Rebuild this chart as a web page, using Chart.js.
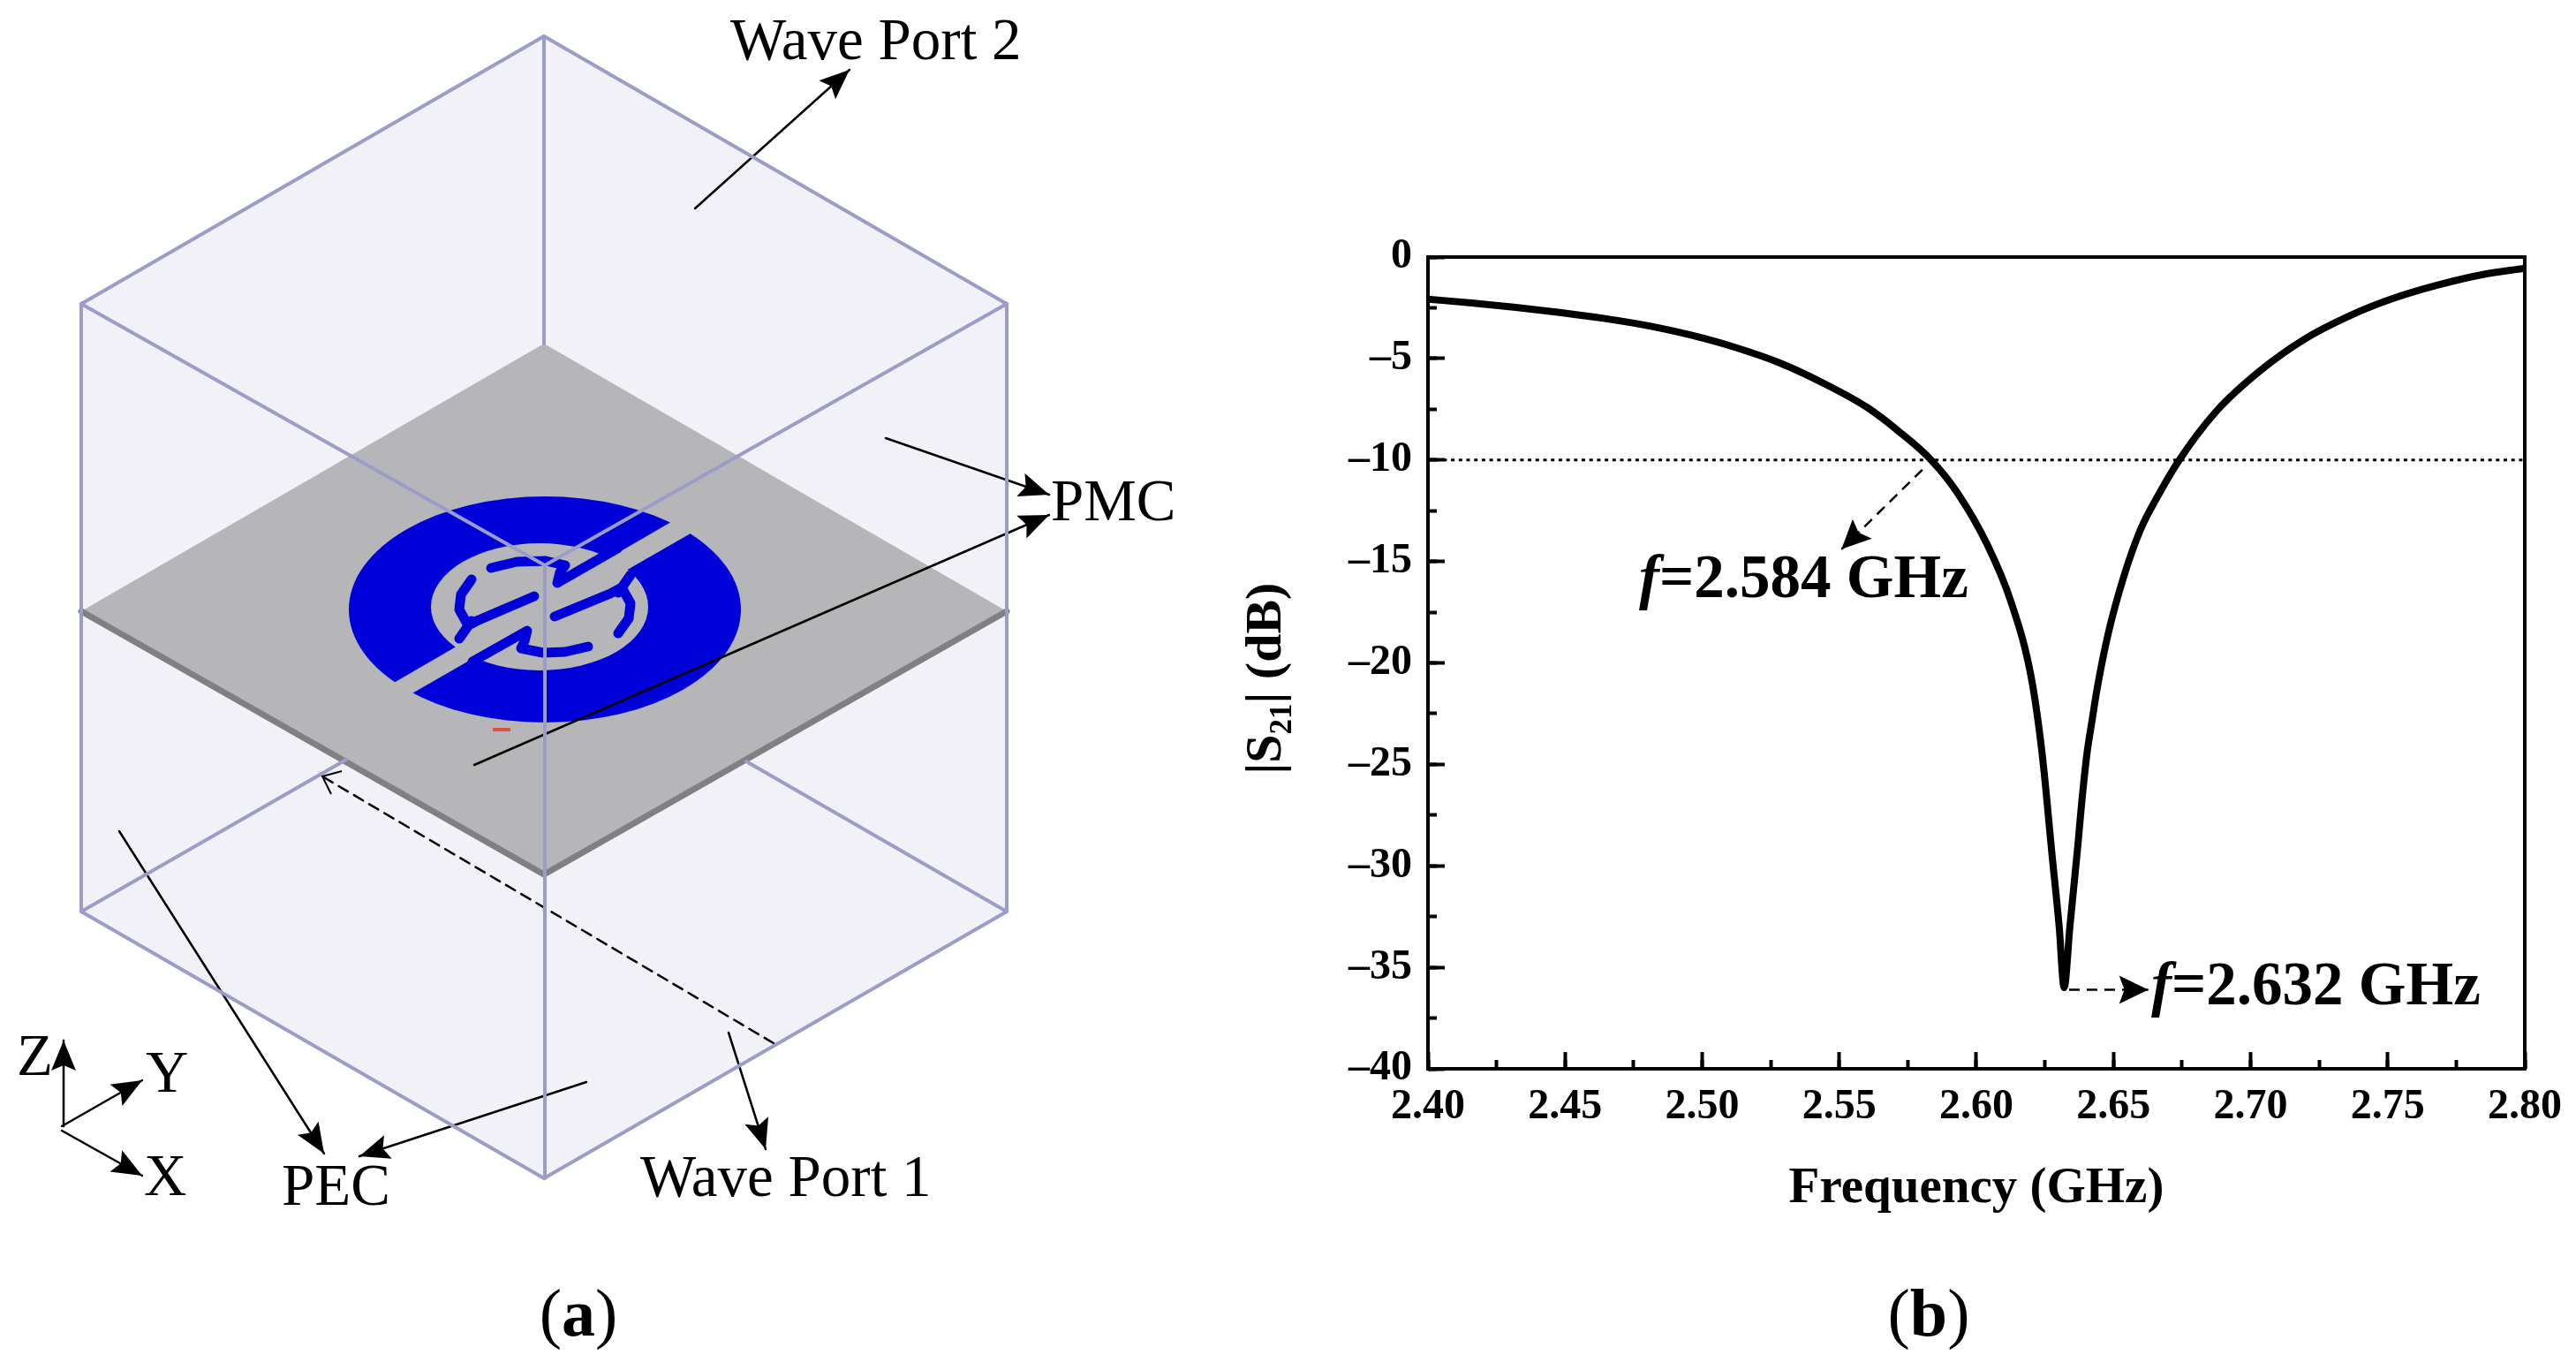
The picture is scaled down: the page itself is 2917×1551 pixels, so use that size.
<!DOCTYPE html>
<html>
<head>
<meta charset="utf-8">
<title>S21 response</title>
<script src="https://cdn.jsdelivr.net/npm/chart.js@4"></script>
<style>
  html, body { margin: 0; padding: 0; background: #fff; }
  #page { position: relative; width: 2917px; height: 1551px; overflow: hidden; }
  canvas { position: absolute; top: 0; }
  #modelChart { left: 0; }
  #responseChart { left: 1380px; }
</style>
</head>
<body>
<div id="page">
  <canvas id="modelChart" width="1380" height="1551"></canvas>
  <canvas id="responseChart" width="1600" height="1551"></canvas>
</div>
<script>
// --- Response curve data (b) ---
const frequency = [2.40, 2.416, 2.432, 2.448, 2.464, 2.48, 2.496, 2.512, 2.528, 2.544, 2.5605, 2.5717, 2.5835, 2.5932, 2.604, 2.6125, 2.62, 2.624, 2.6277, 2.6302, 2.632, 2.6341, 2.637, 2.6384, 2.6404, 2.642, 2.644, 2.648, 2.6534, 2.6598, 2.6665, 2.674, 2.6875, 2.7035, 2.7196, 2.7357, 2.7518, 2.768, 2.784, 2.80];
const s21 = [-2.08, -2.26, -2.48, -2.73, -3.02, -3.38, -3.85, -4.45, -5.2, -6.2, -7.44, -8.59, -10, -11.64, -14.18, -16.94, -20.71, -24.5, -29.6, -33, -36, -33, -29, -26.9, -24.4, -23, -21.3, -18.6, -15.9, -13.45, -11.7, -10, -7.6, -5.6, -4.05, -2.92, -2.05, -1.39, -0.88, -0.55];
const threshold = -10;
const xRange = [2.40, 2.80];
const yRange = [-40, 0];
const lowerLabel = ['f', '=2.584 GHz'];
const upperLabel = ['f', '=2.632 GHz'];
// dashed pointers in data units: [from, to]
const lowerPointer = [{ x: 2.5803, y: -10.48 }, { x: 2.5508, y: -14.4 }];
const upperPointer = [{ x: 2.6338, y: -36.1 }, { x: 2.6627, y: -36.1 }];

// --- Model sketch (a), in picture units ---
const hexagon = [[616, 41], [1140, 344], [1140, 1032], [616, 1334], [92, 1032], [92, 344]];
const plate = [[616, 389], [1140, 692], [616, 990], [92, 692]];
const slot = [[439, 777], [765, 588], [794, 597], [458, 790]];
const boxEdges = [
  [[92, 344], [616, 41], [1140, 344]],
  [[616, 41], [616, 389]],
  [[92, 344], [92, 1032], [616, 1334], [1140, 1032], [1140, 344]],
  [[92, 344], [617, 640], [1140, 344]],
  [[617, 640], [617, 1334]],
  [[92, 1032], [392, 860]],
  [[1140, 1032], [845, 862]]
];
const plateFront = [[92, 692], [616, 990], [1140, 692]];
const stripA = [[556, 643], [585, 636], [618, 635], [640, 640], [634, 648], [631, 660], [699, 621]];
const stripB = [[534, 656], [522, 673], [520, 690], [530, 708], [542, 702], [605, 675]];
const stripBStub = [[534, 703], [520, 723]];
const stripC = [[700, 717], [712, 700], [714, 683], [704, 665], [691, 672], [628, 698]];
const stripCStub = [[700, 671], [714, 651]];
const stripD = [[666, 732], [640, 738], [615, 739], [590, 734], [594, 726], [597, 714], [535, 749]];
const solidArrows = [
  [[787, 236], [962, 79]],
  [[1003, 496], [1188, 560]],
  [[537, 866], [1188, 583]],
  [[825, 1169], [867, 1301]],
  [[135, 941], [367, 1306]],
  [[664, 1225], [407, 1309]],
  [[72, 1275], [72, 1178]],
  [[70, 1275], [161, 1223]],
  [[70, 1280], [161, 1331]]
];
const dashedPort = [[876, 1181], [365, 879]];
const modelLabels = [
  ['Wave Port 2', 827, 67],
  ['PMC', 1190, 589],
  ['PEC', 319, 1364],
  ['Wave Port 1', 725, 1354],
  ['Z', 19, 1217],
  ['Y', 165, 1236],
  ['X', 163, 1353]
];

const SERIF = '"Liberation Serif", serif';
Chart.defaults.devicePixelRatio = 1;

// --- Helpers ---
function arrowHead(ctx, x1, y1, x2, y2, len, wid) {
  const a = Math.atan2(y2 - y1, x2 - x1);
  ctx.save();
  ctx.translate(x2, y2);
  ctx.rotate(a);
  ctx.fillStyle = '#000';
  ctx.beginPath();
  ctx.moveTo(0, 0);
  ctx.lineTo(-len, -wid / 2);
  ctx.lineTo(-len * 0.82, 0);
  ctx.lineTo(-len, wid / 2);
  ctx.closePath();
  ctx.fill();
  ctx.restore();
}
function caption(ctx, cx, y, letter) {
  ctx.save();
  ctx.fillStyle = '#000';
  ctx.textBaseline = 'alphabetic';
  ctx.textAlign = 'left';
  ctx.font = '76px ' + SERIF;
  const pw = ctx.measureText('(').width;
  ctx.font = 'bold 76px ' + SERIF;
  const lw = ctx.measureText(letter).width;
  let x = cx - (pw * 2 + lw) / 2;
  ctx.font = '76px ' + SERIF;
  ctx.fillText('(', x, y);
  x += pw;
  ctx.font = 'bold 76px ' + SERIF;
  ctx.fillText(letter, x, y);
  x += lw;
  ctx.font = '76px ' + SERIF;
  ctx.fillText(')', x, y);
  ctx.restore();
}
function toXY(points) {
  return points.map(p => ({ x: p[0], y: p[1] }));
}
function pathDataset(points, color, width, dash) {
  return {
    data: toXY(points),
    showLine: true,
    borderColor: color,
    borderWidth: width,
    borderDash: dash || [],
    borderJoinStyle: 'round',
    borderCapStyle: 'round',
    pointRadius: 0,
    fill: false,
    clip: false
  };
}

// --- Sketch fills, heads and labels ---
const modelPlugin = {
  id: 'modelPlugin',
  beforeDatasetsDraw(chart) {
    const { ctx, scales } = chart;
    const px = v => scales.x.getPixelForValue(v);
    const py = v => scales.y.getPixelForValue(v);
    const poly = (pts, color) => {
      ctx.fillStyle = color;
      ctx.beginPath();
      pts.forEach((p, i) => i ? ctx.lineTo(px(p[0]), py(p[1])) : ctx.moveTo(px(p[0]), py(p[1])));
      ctx.closePath();
      ctx.fill();
    };
    const oval = (cx, cy, rx, ry, color) => {
      ctx.fillStyle = color;
      ctx.beginPath();
      ctx.ellipse(px(cx), py(cy), rx, ry, 0, 0, Math.PI * 2);
      ctx.fill();
    };
    ctx.save();
    poly(hexagon, '#f1f1f7');
    poly(plate, '#b6b6b8');
    oval(617, 690, 222, 128, '#0000d8');
    oval(611, 687, 123, 72, '#b6b6b8');
    poly(slot, '#b6b6b8');
    ctx.restore();
  },
  afterDatasetsDraw(chart) {
    const { ctx, scales } = chart;
    const px = v => scales.x.getPixelForValue(v);
    const py = v => scales.y.getPixelForValue(v);
    solidArrows.forEach(a => arrowHead(ctx, px(a[0][0]), py(a[0][1]), px(a[1][0]), py(a[1][1]), 34, 28));
    // open head on the dashed port marker
    const tip = dashedPort[1];
    ctx.save();
    ctx.strokeStyle = '#000';
    ctx.lineWidth = 2;
    ctx.beginPath();
    ctx.moveTo(px(tip[0]) + 22, py(tip[1]) - 6);
    ctx.lineTo(px(tip[0]), py(tip[1]));
    ctx.lineTo(px(tip[0]) + 10, py(tip[1]) + 20);
    ctx.stroke();
    ctx.strokeStyle = '#e0503f';
    ctx.lineWidth = 4;
    ctx.beginPath();
    ctx.moveTo(px(558), py(826));
    ctx.lineTo(px(578), py(826));
    ctx.stroke();
    ctx.fillStyle = '#000';
    ctx.font = '67px ' + SERIF;
    ctx.textBaseline = 'alphabetic';
    ctx.textAlign = 'left';
    modelLabels.forEach(l => ctx.fillText(l[0], px(l[1]), py(l[2])));
    ctx.restore();
    caption(ctx, 655, 1512, 'a');
  }
};

// --- Plot frame, pointers and labels ---
const responsePlugin = {
  id: 'responsePlugin',
  afterDatasetsDraw(chart) {
    const { ctx, scales, chartArea } = chart;
    const px = v => scales.x.getPixelForValue(v);
    const py = v => scales.y.getPixelForValue(v);
    ctx.save();
    ctx.strokeStyle = '#000';
    ctx.lineWidth = 4;
    ctx.strokeRect(chartArea.left, chartArea.top, chartArea.width, chartArea.height);
    arrowHead(ctx, px(lowerPointer[0].x), py(lowerPointer[0].y), px(lowerPointer[1].x), py(lowerPointer[1].y), 33, 31);
    arrowHead(ctx, px(upperPointer[0].x), py(upperPointer[0].y), px(upperPointer[1].x), py(upperPointer[1].y), 33, 32);
    // point labels
    ctx.fillStyle = '#000';
    ctx.textAlign = 'left';
    ctx.textBaseline = 'alphabetic';
    const fLabel = (parts, x, y) => {
      ctx.font = 'italic bold 69px ' + SERIF;
      ctx.fillText(parts[0], x, y);
      const w = ctx.measureText(parts[0]).width;
      ctx.font = 'bold 69px ' + SERIF;
      ctx.fillText(parts[1], x + w, y);
    };
    fLabel(lowerLabel, 1856 - 1380, 676);
    fLabel(upperLabel, 2436 - 1380, 1137);
    // y axis title with subscript
    ctx.translate(1450 - 1380, 768);
    ctx.rotate(-Math.PI / 2);
    ctx.font = 'bold 58px ' + SERIF;
    const head = '|S';
    const tail = '| (dB)';
    const hw = ctx.measureText(head).width;
    const tw = ctx.measureText(tail).width;
    ctx.font = 'bold 35px ' + SERIF;
    const sw = ctx.measureText('21').width;
    let x = -(hw + sw + tw) / 2;
    ctx.font = 'bold 58px ' + SERIF;
    ctx.fillText(head, x, 0);
    x += hw;
    ctx.font = 'bold 35px ' + SERIF;
    ctx.fillText('21', x, 12);
    x += sw;
    ctx.font = 'bold 58px ' + SERIF;
    ctx.fillText(tail, x, 0);
    ctx.restore();
    caption(ctx, 2184 - 1380, 1512, 'b');
  }
};

// --- Charts ---
const modelChart = new Chart(document.getElementById('modelChart'), {
  type: 'scatter',
  data: {
    datasets: [
      ...boxEdges.map(e => pathDataset(e, '#9c9cc8', 4)),
      pathDataset(plateFront, '#808082', 7),
      ...[stripA, stripB, stripBStub, stripC, stripCStub, stripD].map(s => pathDataset(s, '#0000d8', 11)),
      ...solidArrows.map(a => pathDataset(a, '#000', 2.5)),
      pathDataset(dashedPort, '#000', 2.5, [12, 8])
    ]
  },
  options: {
    responsive: false,
    animation: false,
    layout: { padding: 0 },
    plugins: { legend: { display: false }, tooltip: { enabled: false } },
    scales: {
      x: { display: false, min: 0, max: 1380 },
      y: { display: false, min: 0, max: 1551, reverse: true }
    }
  },
  plugins: [modelPlugin]
});

const tickFont = { family: SERIF, weight: 'bold', size: 48 };
const responseChart = new Chart(document.getElementById('responseChart'), {
  type: 'scatter',
  data: {
    datasets: [
      {
        data: frequency.map((f, i) => ({ x: f, y: s21[i] })),
        showLine: true,
        borderColor: '#000',
        borderWidth: 8,
        borderJoinStyle: 'round',
        cubicInterpolationMode: 'monotone',
        pointRadius: 0
      },
      {
        data: xRange.map(f => ({ x: f, y: threshold })),
        showLine: true,
        borderColor: '#000',
        borderWidth: 3,
        borderDash: [4, 4.7],
        pointRadius: 0
      },
      { data: lowerPointer, showLine: true, borderColor: '#000', borderWidth: 2.5, borderDash: [12, 8], pointRadius: 0 },
      { data: upperPointer, showLine: true, borderColor: '#000', borderWidth: 2.5, borderDash: [12, 8], pointRadius: 0 }
    ]
  },
  options: {
    responsive: false,
    animation: false,
    // the canvas runs past the page edge so the last tick label's margin does not squeeze the plot
    layout: { padding: { left: 0, right: 121, top: 291, bottom: 0 } },
    plugins: { legend: { display: false }, tooltip: { enabled: false } },
    scales: {
      x: {
        type: 'linear',
        weight: 1,
        min: xRange[0],
        max: xRange[1],
        afterFit: s => { s.height = 341; },
        border: { display: false },
        grid: { drawOnChartArea: false, tickLength: -19, tickWidth: 4, tickColor: '#000' },
        ticks: {
          stepSize: 0.05,
          padding: 34,
          color: '#000',
          font: tickFont,
          maxRotation: 0,
          callback: v => v.toFixed(2)
        },
        title: {
          display: true,
          text: 'Frequency (GHz)',
          color: '#000',
          font: { family: SERIF, weight: 'bold', size: 57 },
          padding: { top: 0, bottom: 171 }
        }
      },
      xMinor: {
        type: 'linear',
        position: 'bottom',
        weight: 0,
        min: xRange[0],
        max: xRange[1],
        afterFit: s => { s.height = 0; },
        border: { display: false },
        grid: { drawOnChartArea: false, tickLength: -10, tickWidth: 4, tickColor: '#000' },
        ticks: { stepSize: 0.025, display: false }
      },
      y: {
        type: 'linear',
        weight: 1,
        min: yRange[0],
        max: yRange[1],
        afterFit: s => { s.width = 237; },
        border: { display: false },
        grid: { drawOnChartArea: false, tickLength: -19, tickWidth: 4, tickColor: '#000' },
        ticks: {
          stepSize: 5,
          padding: 37,
          color: '#000',
          font: tickFont,
          callback: v => v === 0 ? '0' : '\u2013' + Math.abs(v)
        }
      },
      yMinor: {
        type: 'linear',
        position: 'left',
        weight: 0,
        min: yRange[0],
        max: yRange[1],
        afterFit: s => { s.width = 0; },
        border: { display: false },
        grid: { drawOnChartArea: false, tickLength: -10, tickWidth: 4, tickColor: '#000' },
        ticks: { stepSize: 2.5, display: false }
      }
    }
  },
  plugins: [responsePlugin]
});
</script>
</body>
</html>
